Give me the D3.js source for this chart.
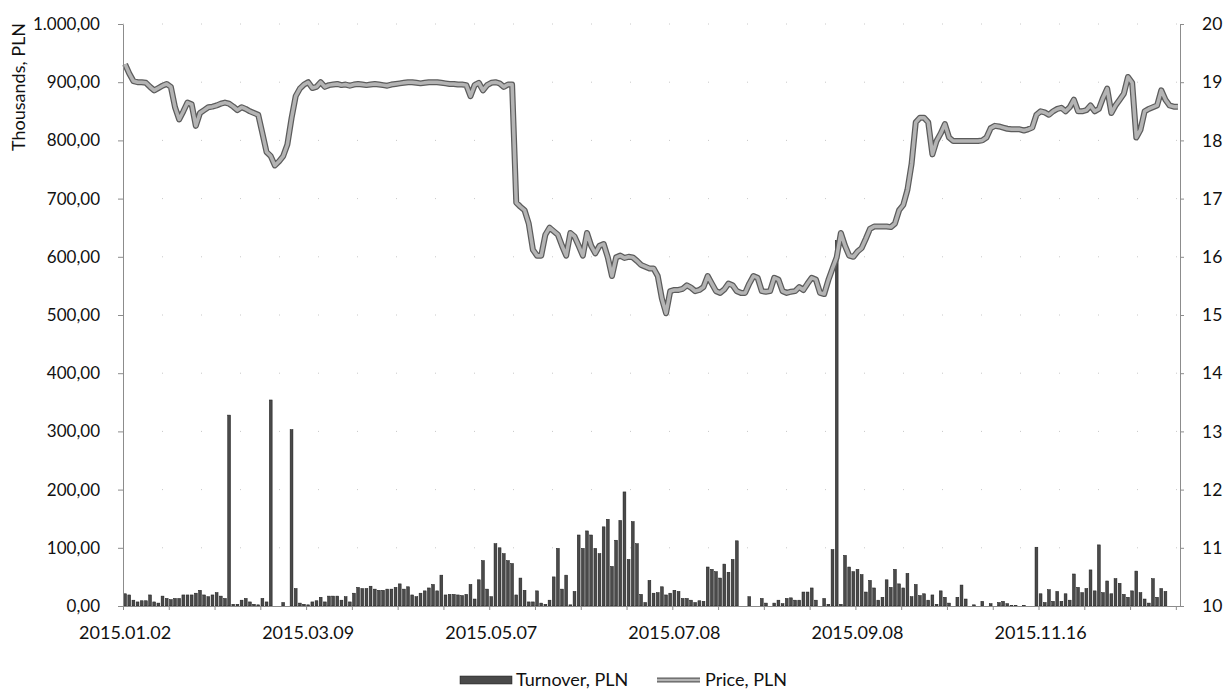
<!DOCTYPE html>
<html>
<head>
<meta charset="utf-8">
<script src="https://cdn.jsdelivr.net/npm/d3@7"></script>
<style>
  body { margin: 0; background: #fff; }
  svg text { font-family: Lato, "Open Sans", sans-serif; fill: #111; }
</style>
</head>
<body>
<svg id="chart" width="1226" height="689"></svg>
<script>
// trading-day turnover (thousands PLN), one value per session
var turnover = [
  21,19,10,7,9,9,19,7,5,17, 13,11,13,13,19,19,19,22,27,19,
  16,19,23,17,13,328,3,3,10,13, 7,3,2,13,7,354,0,0,6,0,
  303,30,5,3,2,7,9,15,7,17, 17,17,10,16,7,22,32,30,30,34,
  29,27,27,29,29,32,38,29,33,19, 16,22,26,31,37,26,53,19,20,20,
  19,18,20,37,12,45,78,29,16,107, 100,90,78,73,19,48,27,7,7,26,
  5,3,10,50,99,29,53,2,25,122, 99,129,122,99,90,136,149,68,113,147,
  196,80,145,107,20,6,44,22,23,33, 19,22,27,25,13,13,10,6,9,8,
  67,63,59,48,72,58,80,112,0,0, 16,0,0,13,5,0,5,10,4,13,
  14,10,10,24,24,31,10,0,13,3, 97,628,3,87,67,59,63,54,24,44,
  31,10,15,45,32,63,38,31,56,16, 37,18,21,10,19,3,26,15,5,0,
  15,36,12,0,2,0,8,0,4,0, 6,8,4,1,1,0,1,0,0,101,
  21,6,28,8,25,8,21,10,55,32, 23,30,62,26,105,23,43,21,47,39,
  20,15,26,60,23,12,5,47,15,30, 25,0,0,0
];

// closing price (PLN), same sessions
var price = [
  19.31,19.15,19.02,19.00,19.00,18.99,18.92,18.86,18.90,18.94,
  18.97,18.92,18.57,18.36,18.50,18.65,18.62,18.25,18.47,18.52,
  18.57,18.58,18.60,18.63,18.65,18.63,18.58,18.52,18.57,18.54,
  18.50,18.47,18.44,18.12,17.80,17.73,17.57,17.64,17.73,17.93,
  18.38,18.76,18.89,18.96,19.00,18.90,18.92,19.00,18.92,18.95,
  18.96,18.97,18.95,18.96,18.94,18.96,18.97,18.96,18.95,18.96,
  18.97,18.96,18.95,18.94,18.96,18.97,18.98,18.99,19.00,19.00,
  18.99,18.98,18.99,19.00,19.00,19.00,18.99,18.98,18.97,18.97,
  18.96,18.96,18.95,18.76,18.95,18.99,18.86,18.95,18.99,19.00,
  18.98,18.92,18.96,18.96,16.93,16.86,16.80,16.57,16.12,16.02,
  16.02,16.38,16.50,16.44,16.38,16.19,16.02,16.41,16.35,16.19,
  16.02,16.41,16.19,16.06,16.19,16.22,15.99,15.67,15.99,16.02,
  15.98,16.00,15.99,15.93,15.86,15.83,15.80,15.80,15.67,15.28,
  15.03,15.41,15.43,15.43,15.45,15.51,15.47,15.41,15.43,15.48,
  15.67,15.54,15.41,15.38,15.44,15.54,15.51,15.41,15.38,15.38,
  15.54,15.67,15.64,15.41,15.40,15.41,15.64,15.61,15.41,15.38,
  15.40,15.41,15.48,15.43,15.54,15.64,15.61,15.38,15.36,15.60,
  15.80,15.99,16.41,16.19,16.02,16.00,16.09,16.15,16.31,16.48,
  16.52,16.52,16.52,16.52,16.51,16.57,16.80,16.89,17.15,17.60,
  18.31,18.39,18.39,18.31,17.76,17.99,18.12,18.28,18.05,17.99,
  17.99,17.99,17.99,17.99,17.99,17.99,18.00,18.05,18.21,18.25,
  18.24,18.22,18.20,18.19,18.19,18.19,18.17,18.19,18.22,18.44,
  18.50,18.48,18.44,18.50,18.54,18.56,18.50,18.57,18.70,18.50,
  18.50,18.52,18.60,18.50,18.54,18.73,18.89,18.47,18.60,18.70,
  18.80,19.09,18.99,18.05,18.18,18.50,18.54,18.57,18.60,18.86,
  18.70,18.60,18.58,18.58
];

var tickLabels = ["2015.01.02", "2015.03.09", "2015.05.07", "2015.07.08", "2015.09.08", "2015.11.16"];
var labelEvery = 44;
var tickEvery = 11;
var leftTicks = [0, 100, 200, 300, 400, 500, 600, 700, 800, 900, 1000];
var rightTicks = [10, 11, 12, 13, 14, 15, 16, 17, 18, 19, 20];

var plotL = 123, plotR = 1180, plotT = 24, plotB = 606;
var svg = d3.select("#chart");

var pl = d3.formatLocale({decimal: ",", thousands: ".", grouping: [3], currency: ["", ""]});
var fmt = pl.format(",.2f");

var idx = d3.range(turnover.length);
var x = d3.scaleBand().domain(idx).range([plotL, plotR]).paddingInner(0.32).paddingOuter(0.16);
var xb = d3.scaleLinear().domain([0, turnover.length]).range([plotL, plotR]);
var yL = d3.scaleLinear().domain([0, 1000]).range([plotB, plotT]);
var yR = d3.scaleLinear().domain([10, 20]).range([plotB, plotT]);

// faint dotted gridlines
svg.append("g").selectAll("line")
  .data(leftTicks.slice(1))
  .enter().append("line")
  .attr("x1", plotL).attr("x2", plotR)
  .attr("y1", function(d) { return yL(d); })
  .attr("y2", function(d) { return yL(d); })
  .attr("stroke", "#c8c8c8")
  .attr("stroke-width", 1)
  .attr("stroke-dasharray", "1,38");

// turnover bars
svg.append("g").selectAll("rect")
  .data(turnover)
  .enter().append("rect")
  .attr("x", function(d, i) { return x(i); })
  .attr("width", x.bandwidth())
  .attr("y", function(d) { return yL(d); })
  .attr("height", function(d) { return plotB - yL(d); })
  .attr("fill", "#4a4a4a")
  .attr("stroke", "#1a1a1a")
  .attr("stroke-width", 0.5);

// price line (dark rim + light gray core)
var line = d3.line()
  .x(function(d, i) { return x(i) + x.bandwidth() / 2; })
  .y(function(d) { return yR(d); });

svg.append("path").datum(price)
  .attr("d", line).attr("fill", "none")
  .attr("stroke", "#5c5c5c").attr("stroke-width", 6)
  .attr("stroke-linejoin", "round");
svg.append("path").datum(price)
  .attr("d", line).attr("fill", "none")
  .attr("stroke", "#b4b4b4").attr("stroke-width", 3.5)
  .attr("stroke-linejoin", "round");

// left axis
var ax = svg.append("g").attr("transform", "translate(" + plotL + ",0)")
  .call(d3.axisLeft(yL).tickValues(leftTicks).tickFormat(fmt).tickSizeInner(5).tickSizeOuter(0).tickPadding(18));
ax.select(".domain").attr("stroke", "#8c8c8c");
ax.selectAll("line").attr("stroke", "#8c8c8c");
ax.selectAll("text").style("font-size", "17px").attr("fill", "#111");

// right axis
var ar = svg.append("g").attr("transform", "translate(" + plotR + ",0)")
  .call(d3.axisRight(yR).tickValues(rightTicks).tickSizeInner(4).tickSizeOuter(0).tickPadding(18));
ar.select(".domain").attr("stroke", "#8c8c8c");
ar.selectAll("line").attr("stroke", "#8c8c8c");
ar.selectAll("text").style("font-size", "17.5px").attr("fill", "#111");

// bottom axis: tick marks every 11 sessions, labels every 44
var tb = svg.append("g").attr("transform", "translate(0," + plotB + ")")
  .call(d3.axisBottom(xb).tickValues(d3.range(0, turnover.length, tickEvery)).tickSizeInner(4).tickSizeOuter(0).tickFormat(""));
tb.select(".domain").attr("stroke", "#8c8c8c");
tb.selectAll("line").attr("stroke", "#8c8c8c");

var lb = svg.append("g").attr("transform", "translate(0," + plotB + ")")
  .call(d3.axisBottom(x)
    .tickValues(tickLabels.map(function(d, k) { return k * labelEvery; }))
    .tickFormat(function(d) { return tickLabels[d / labelEvery]; })
    .tickSize(0).tickPadding(20));
lb.select(".domain").remove();
lb.selectAll("text").style("font-size", "18px").attr("fill", "#111");

// y title
svg.append("text")
  .attr("transform", "translate(25,87) rotate(-90)")
  .attr("text-anchor", "middle")
  .style("font-size", "18px")
  .text("Thousands, PLN");

// legend
var lg = svg.append("g");
lg.append("rect").attr("x", 460).attr("y", 676).attr("width", 52).attr("height", 8)
  .attr("fill", "#4a4a4a").attr("stroke", "#1a1a1a").attr("stroke-width", 0.5);
lg.append("text").attr("x", 516).attr("y", 686).style("font-size", "18px").text("Turnover, PLN");
lg.append("line").attr("x1", 657).attr("x2", 700).attr("y1", 680).attr("y2", 680)
  .attr("stroke", "#5c5c5c").attr("stroke-width", 5);
lg.append("line").attr("x1", 657).attr("x2", 700).attr("y1", 680).attr("y2", 680)
  .attr("stroke", "#b4b4b4").attr("stroke-width", 2.5);
lg.append("text").attr("x", 705).attr("y", 686).style("font-size", "18px").text("Price, PLN");
</script>
</body>
</html>
